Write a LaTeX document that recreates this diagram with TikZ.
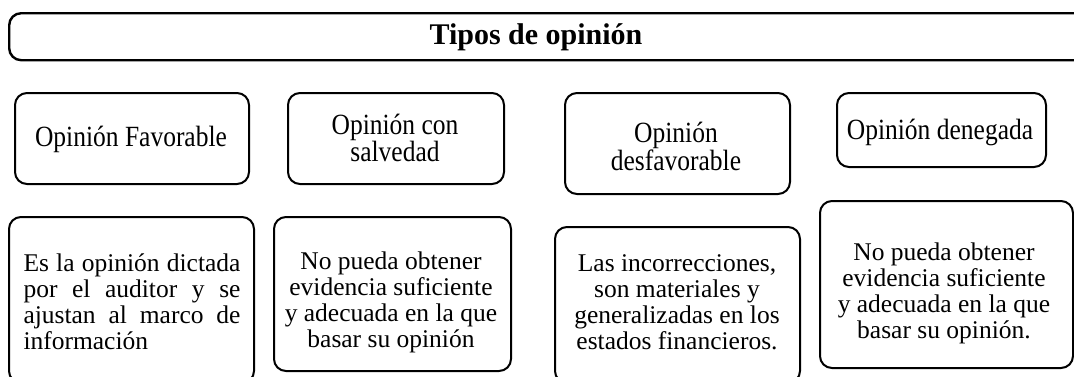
\documentclass[tikz,border=0pt]{standalone}
\usepackage{graphicx}
\usepackage{fontspec}
\setmainfont{Liberation Serif}
\newcommand{\vstr}[1]{\scalebox{1}[1.15]{#1}}
\begin{document}
\begin{tikzpicture}[x=1pt,y=-1pt,
  box/.style={draw=black, line width=2pt, rounded corners=12pt, inner sep=0pt},
  body/.style={font=\fontsize{25.5}{26}\selectfont, align=center, inner sep=0pt},
]
\useasboundingbox (0,0) rectangle (1074,376);
\clip (0,0) rectangle (1074,376);
% title
\node[box, line width=2.4pt, minimum width=1090pt, minimum height=47pt, anchor=north west] (title) at (8,12) {};
\node[inner sep=0pt, font=\fontsize{30}{30}\selectfont\bfseries] (titlelbl) at (536,37) {Tipos de opinión};
% top row
\node[box, minimum width=234pt, minimum height=91pt, anchor=north west] (t1) at (14,92) {};
\node[body] (t1l) at (131,139) {\vstr{Opinión Favorable}};
\node[box, minimum width=216pt, minimum height=91pt, anchor=north west] (t2) at (287,92) {};
\node[body] (t2l) at (395,138) {\vstr{Opinión con}\\\vstr{salvedad}};
\node[box, minimum width=225pt, minimum height=101pt, anchor=north west] (t3) at (564,92) {};
\node[body] (t3l) at (676,146) {\vstr{Opinión}\\\vstr{desfavorable}};
\node[box, minimum width=209pt, minimum height=74pt, anchor=north west] (t4) at (836,92) {};
\node[body] (t4l) at (940,132) {\vstr{Opinión denegada}};
% bottom row
\node[box, minimum width=245pt, minimum height=166pt, anchor=north west] (b1) at (8,216) {};
\node[body, text width=217pt, align=justify] (b1l) at (132,302) {Es la opinión dictada\linebreak por el auditor y se\linebreak ajustan al marco de\linebreak información};
\node[box, minimum width=237pt, minimum height=154pt, anchor=north west] (b2) at (273,216) {};
\node[body] (b2l) at (391,302) {No pueda obtener\\evidencia suficiente\\y adecuada en la que\\basar su opinión};
\node[box, minimum width=245pt, minimum height=156pt, anchor=north west] (b3) at (554,226) {};
\node[body] (b3l) at (677,302) {Las incorrecciones,\\son materiales y\\generalizadas en los\\estados financieros.};
\node[box, minimum width=253pt, minimum height=167pt, anchor=north west] (b4) at (819,200) {};
\node[body] (b4l) at (944,293) {No pueda obtener\\evidencia suficiente\\y adecuada en la que\\basar su opinión.};
\end{tikzpicture}
\end{document}
